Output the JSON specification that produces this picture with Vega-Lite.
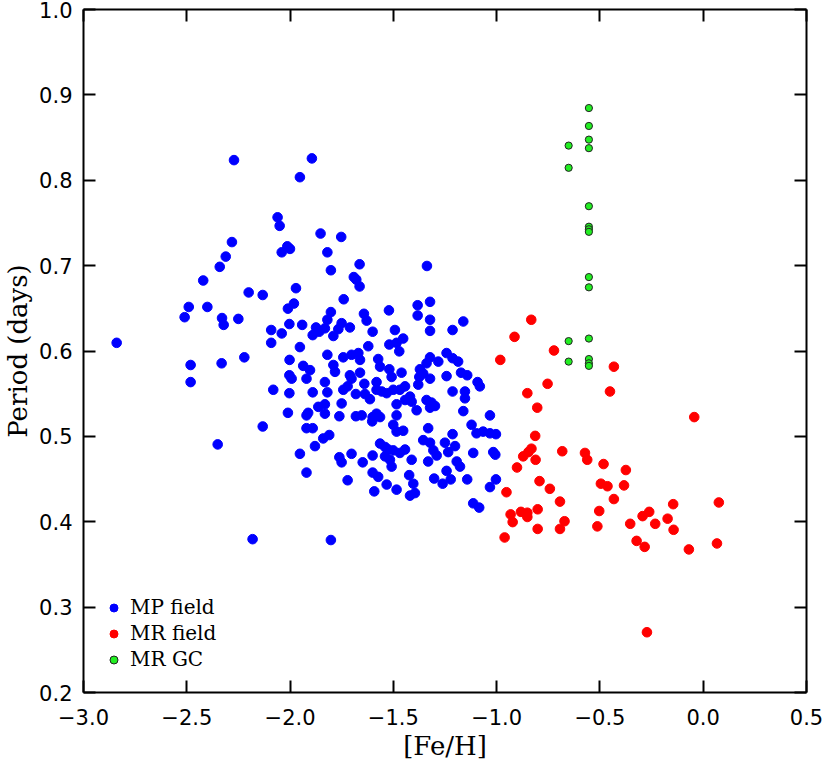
{
"$schema": "https://vega.github.io/schema/vega-lite/v6.json",
"width": 723, "height": 683,
"autosize": "none",
"padding": {"left": 83, "top": 9, "right": 24, "bottom": 69},
"background": "white",
"config": {
  "view": {"stroke": null},
  "axis": {"domainColor": "black", "domainWidth": 2, "tickColor": "black", "tickWidth": 2, "tickSize": 12, "grid": false,
           "labelFont": "DejaVu Sans", "labelFontSize": 21, "labelColor": "black", "labelPadding": 11, "labelFlush": false, "labelOverlap": false,
           "titleFont": "DejaVu Serif", "titleFontSize": 26, "titleFontWeight": "normal", "titleColor": "black"},
  "legend": {"labelFont": "DejaVu Serif", "labelFontSize": 20, "labelColor": "black", "symbolSize": 64, "symbolStrokeWidth": 1, "rowPadding": 6, "padding": 0, "labelOffset": 6}
},
"data": {"values": [
{"group":"MP field","feh":-2.269,"period":0.823},{"group":"MP field","feh":-2.058,"period":0.756},{"group":"MP field","feh":-2.048,"period":0.746},{"group":"MP field","feh":-2.279,"period":0.727},{"group":"MP field","feh":-2.011,"period":0.722},{"group":"MP field","feh":-2.038,"period":0.715},{"group":"MP field","feh":-2.309,"period":0.710},{"group":"MP field","feh":-2.338,"period":0.698},{"group":"MP field","feh":-2.418,"period":0.682},{"group":"MP field","feh":-2.198,"period":0.668},{"group":"MP field","feh":-2.130,"period":0.665},{"group":"MP field","feh":-2.008,"period":0.649},{"group":"MP field","feh":-2.488,"period":0.651},{"group":"MP field","feh":-2.398,"period":0.651},{"group":"MP field","feh":-2.508,"period":0.639},{"group":"MP field","feh":-2.327,"period":0.638},{"group":"MP field","feh":-2.319,"period":0.630},{"group":"MP field","feh":-2.248,"period":0.637},{"group":"MP field","feh":-2.089,"period":0.624},{"group":"MP field","feh":-2.038,"period":0.620},{"group":"MP field","feh":-2.001,"period":0.631},
{"group":"MP field","feh":-2.837,"period":0.609},{"group":"MP field","feh":-2.089,"period":0.609},{"group":"MP field","feh":-2.479,"period":0.583},{"group":"MP field","feh":-2.329,"period":0.585},{"group":"MP field","feh":-2.219,"period":0.592},{"group":"MP field","feh":-2.000,"period":0.589},{"group":"MP field","feh":-2.479,"period":0.563},{"group":"MP field","feh":-2.001,"period":0.571},{"group":"MP field","feh":-2.079,"period":0.554},{"group":"MP field","feh":-2.001,"period":0.550},{"group":"MP field","feh":-2.008,"period":0.527},{"group":"MP field","feh":-2.130,"period":0.511},{"group":"MP field","feh":-2.348,"period":0.490},{"group":"MP field","feh":-2.179,"period":0.379},
{"group":"MP field","feh":-1.950,"period":0.803},{"group":"MP field","feh":-1.892,"period":0.825},
{"group":"MP field","feh":-1.850,"period":0.737},{"group":"MP field","feh":-1.750,"period":0.733},{"group":"MP field","feh":-1.998,"period":0.719},{"group":"MP field","feh":-1.817,"period":0.715},{"group":"MP field","feh":-1.661,"period":0.701},{"group":"MP field","feh":-1.800,"period":0.694},{"group":"MP field","feh":-1.689,"period":0.686},{"group":"MP field","feh":-1.677,"period":0.683},{"group":"MP field","feh":-1.661,"period":0.675},{"group":"MP field","feh":-1.969,"period":0.673},{"group":"MP field","feh":-1.738,"period":0.660},{"group":"MP field","feh":-1.979,"period":0.655},{"group":"MP field","feh":-1.800,"period":0.645},{"group":"MP field","feh":-1.640,"period":0.643},{"group":"MP field","feh":-1.627,"period":0.635},{"group":"MP field","feh":-1.519,"period":0.647},{"group":"MP field","feh":-1.817,"period":0.636},{"group":"MP field","feh":-1.939,"period":0.630},{"group":"MP field","feh":-1.748,"period":0.632},{"group":"MP field","feh":-1.829,"period":0.626},{"group":"MP field","feh":-1.872,"period":0.627},{"group":"MP field","feh":-1.764,"period":0.625},{"group":"MP field","feh":-1.708,"period":0.627},{"group":"MP field","feh":-1.888,"period":0.618},{"group":"MP field","feh":-1.856,"period":0.622},{"group":"MP field","feh":-1.788,"period":0.617},{"group":"MP field","feh":-1.598,"period":0.622},{"group":"MP field","feh":-1.950,"period":0.604},{"group":"MP field","feh":-1.619,"period":0.605},{"group":"MP field","feh":-1.817,"period":0.595},{"group":"MP field","feh":-1.740,"period":0.592},{"group":"MP field","feh":-1.700,"period":0.595},{"group":"MP field","feh":-1.667,"period":0.597},{"group":"MP field","feh":-1.571,"period":0.590},
{"group":"MP field","feh":-1.659,"period":0.589},{"group":"MP field","feh":-1.562,"period":0.581},{"group":"MP field","feh":-1.934,"period":0.582},{"group":"MP field","feh":-1.788,"period":0.583},{"group":"MP field","feh":-1.901,"period":0.577},{"group":"MP field","feh":-1.780,"period":0.575},{"group":"MP field","feh":-1.990,"period":0.567},{"group":"MP field","feh":-1.918,"period":0.567},{"group":"MP field","feh":-1.708,"period":0.571},{"group":"MP field","feh":-1.700,"period":0.567},{"group":"MP field","feh":-1.659,"period":0.574},{"group":"MP field","feh":-1.829,"period":0.563},{"group":"MP field","feh":-1.638,"period":0.561},{"group":"MP field","feh":-1.579,"period":0.563},{"group":"MP field","feh":-1.888,"period":0.551},{"group":"MP field","feh":-1.817,"period":0.551},{"group":"MP field","feh":-1.740,"period":0.554},{"group":"MP field","feh":-1.719,"period":0.558},{"group":"MP field","feh":-1.679,"period":0.549},{"group":"MP field","feh":-1.635,"period":0.549},{"group":"MP field","feh":-1.611,"period":0.543},{"group":"MP field","feh":-1.579,"period":0.554},{"group":"MP field","feh":-1.554,"period":0.552},{"group":"MP field","feh":-1.530,"period":0.550},{"group":"MP field","feh":-1.748,"period":0.538},{"group":"MP field","feh":-1.861,"period":0.534},{"group":"MP field","feh":-1.829,"period":0.537},{"group":"MP field","feh":-1.829,"period":0.526},{"group":"MP field","feh":-1.918,"period":0.524},{"group":"MP field","feh":-1.910,"period":0.527},{"group":"MP field","feh":-1.759,"period":0.523},{"group":"MP field","feh":-1.679,"period":0.523},{"group":"MP field","feh":-1.651,"period":0.524},{"group":"MP field","feh":-1.598,"period":0.522},{"group":"MP field","feh":-1.579,"period":0.526},{"group":"MP field","feh":-1.562,"period":0.522},{"group":"MP field","feh":-1.600,"period":0.517},{"group":"MP field","feh":-1.918,"period":0.509},{"group":"MP field","feh":-1.888,"period":0.509},{"group":"MP field","feh":-1.837,"period":0.497},{"group":"MP field","feh":-1.808,"period":0.501},{"group":"MP field","feh":-1.877,"period":0.488},{"group":"MP field","feh":-1.950,"period":0.479},{"group":"MP field","feh":-1.759,"period":0.475},{"group":"MP field","feh":-1.748,"period":0.469},{"group":"MP field","feh":-1.700,"period":0.479},{"group":"MP field","feh":-1.646,"period":0.469},{"group":"MP field","feh":-1.598,"period":0.477},{"group":"MP field","feh":-1.918,"period":0.457},{"group":"MP field","feh":-1.719,"period":0.448},{"group":"MP field","feh":-1.598,"period":0.457},{"group":"MP field","feh":-1.571,"period":0.452},{"group":"MP field","feh":-1.530,"period":0.443},{"group":"MP field","feh":-1.590,"period":0.435},{"group":"MP field","feh":-1.800,"period":0.378},
{"group":"MP field","feh":-1.380,"period":0.653},{"group":"MP field","feh":-1.320,"period":0.657},{"group":"MP field","feh":-1.380,"period":0.641},{"group":"MP field","feh":-1.320,"period":0.636},{"group":"MP field","feh":-1.159,"period":0.634},{"group":"MP field","feh":-1.490,"period":0.624},{"group":"MP field","feh":-1.320,"period":0.623},{"group":"MP field","feh":-1.211,"period":0.624},{"group":"MP field","feh":-1.450,"period":0.614},{"group":"MP field","feh":-1.482,"period":0.609},{"group":"MP field","feh":-1.517,"period":0.607},{"group":"MP field","feh":-1.469,"period":0.599},{"group":"MP field","feh":-1.240,"period":0.597},{"group":"MP field","feh":-1.320,"period":0.592},{"group":"MP field","feh":-1.280,"period":0.587},{"group":"MP field","feh":-1.337,"period":0.585},{"group":"MP field","feh":-1.211,"period":0.591},{"group":"MP field","feh":-1.184,"period":0.587},{"group":"MP field","feh":-1.517,"period":0.578},{"group":"MP field","feh":-1.506,"period":0.569},{"group":"MP field","feh":-1.458,"period":0.574},{"group":"MP field","feh":-1.369,"period":0.578},{"group":"MP field","feh":-1.353,"period":0.573},{"group":"MP field","feh":-1.372,"period":0.569},{"group":"MP field","feh":-1.320,"period":0.567},{"group":"MP field","feh":-1.240,"period":0.570},{"group":"MP field","feh":-1.170,"period":0.574},{"group":"MP field","feh":-1.140,"period":0.571},{"group":"MP field","feh":-1.090,"period":0.563},{"group":"MP field","feh":-1.079,"period":0.558},{"group":"MP field","feh":-1.377,"period":0.560},{"group":"MP field","feh":-1.441,"period":0.558},{"group":"MP field","feh":-1.466,"period":0.554},{"group":"MP field","feh":-1.498,"period":0.554},{"group":"MP field","feh":-1.211,"period":0.552},{"group":"MP field","feh":-1.151,"period":0.552},{"group":"MP field","feh":-1.151,"period":0.544},{"group":"MP field","feh":-1.417,"period":0.546},{"group":"MP field","feh":-1.441,"period":0.542},{"group":"MP field","feh":-1.409,"period":0.540},{"group":"MP field","feh":-1.482,"period":0.537},{"group":"MP field","feh":-1.385,"period":0.530},{"group":"MP field","feh":-1.337,"period":0.542},{"group":"MP field","feh":-1.313,"period":0.539},{"group":"MP field","feh":-1.296,"period":0.535},{"group":"MP field","feh":-1.320,"period":0.533},{"group":"MP field","feh":-1.159,"period":0.529},{"group":"MP field","feh":-1.482,"period":0.524},{"group":"MP field","feh":-1.030,"period":0.524},{"group":"MP field","feh":-1.119,"period":0.513},{"group":"MP field","feh":-1.498,"period":0.513},{"group":"MP field","feh":-1.482,"period":0.505},{"group":"MP field","feh":-1.450,"period":0.506},{"group":"MP field","feh":-1.329,"period":0.509},{"group":"MP field","feh":-1.095,"period":0.503},{"group":"MP field","feh":-1.063,"period":0.505},{"group":"MP field","feh":-1.030,"period":0.503},{"group":"MP field","feh":-1.001,"period":0.502},{"group":"MP field","feh":-1.211,"period":0.502},{"group":"MP field","feh":-1.353,"period":0.495},{"group":"MP field","feh":-1.320,"period":0.492},{"group":"MP field","feh":-1.248,"period":0.492},{"group":"MP field","feh":-1.199,"period":0.488},{"group":"MP field","feh":-1.562,"period":0.491},{"group":"MP field","feh":-1.538,"period":0.487},{"group":"MP field","feh":-1.522,"period":0.484},{"group":"MP field","feh":-1.498,"period":0.483},{"group":"MP field","feh":-1.466,"period":0.480},{"group":"MP field","feh":-1.441,"period":0.484},{"group":"MP field","feh":-1.304,"period":0.483},{"group":"MP field","feh":-1.288,"period":0.477},{"group":"MP field","feh":-1.232,"period":0.481},{"group":"MP field","feh":-1.014,"period":0.481},{"group":"MP field","feh":-1.004,"period":0.478},{"group":"MP field","feh":-1.538,"period":0.476},{"group":"MP field","feh":-1.514,"period":0.472},{"group":"MP field","feh":-1.506,"period":0.464},{"group":"MP field","feh":-1.111,"period":0.480},{"group":"MP field","feh":-1.409,"period":0.472},{"group":"MP field","feh":-1.329,"period":0.470},{"group":"MP field","feh":-1.191,"period":0.470},{"group":"MP field","feh":-1.175,"period":0.464},{"group":"MP field","feh":-1.240,"period":0.459},{"group":"MP field","feh":-1.421,"period":0.454},{"group":"MP field","feh":-1.482,"period":0.437},{"group":"MP field","feh":-1.401,"period":0.444},{"group":"MP field","feh":-1.393,"period":0.433},{"group":"MP field","feh":-1.417,"period":0.430},{"group":"MP field","feh":-1.300,"period":0.450},{"group":"MP field","feh":-1.259,"period":0.444},{"group":"MP field","feh":-1.220,"period":0.449},{"group":"MP field","feh":-1.140,"period":0.449},{"group":"MP field","feh":-1.001,"period":0.449},{"group":"MP field","feh":-1.030,"period":0.440},{"group":"MP field","feh":-1.111,"period":0.421},{"group":"MP field","feh":-1.082,"period":0.416},{"group":"MP field","feh":-1.335,"period":0.699},
{"group":"MR field","feh":-0.830,"period":0.636},{"group":"MR field","feh":-0.911,"period":0.616},{"group":"MR field","feh":-0.720,"period":0.600},{"group":"MR field","feh":-0.980,"period":0.589},{"group":"MR field","feh":-0.430,"period":0.581},{"group":"MR field","feh":-0.751,"period":0.561},{"group":"MR field","feh":-0.849,"period":0.550},{"group":"MR field","feh":-0.449,"period":0.552},{"group":"MR field","feh":-0.801,"period":0.533},{"group":"MR field","feh":-0.041,"period":0.522},{"group":"MR field","feh":-0.811,"period":0.500},{"group":"MR field","feh":-0.829,"period":0.485},{"group":"MR field","feh":-0.844,"period":0.481},{"group":"MR field","feh":-0.869,"period":0.476},{"group":"MR field","feh":-0.680,"period":0.482},{"group":"MR field","feh":-0.570,"period":0.480},{"group":"MR field","feh":-0.559,"period":0.472},{"group":"MR field","feh":-0.809,"period":0.472},{"group":"MR field","feh":-0.899,"period":0.463},{"group":"MR field","feh":-0.480,"period":0.467},{"group":"MR field","feh":-0.372,"period":0.460},{"group":"MR field","feh":-0.790,"period":0.447},{"group":"MR field","feh":-0.740,"period":0.438},{"group":"MR field","feh":-0.950,"period":0.434},{"group":"MR field","feh":-0.493,"period":0.444},{"group":"MR field","feh":-0.461,"period":0.441},{"group":"MR field","feh":-0.381,"period":0.442},{"group":"MR field","feh":-0.691,"period":0.423},{"group":"MR field","feh":-0.430,"period":0.426},{"group":"MR field","feh":-0.143,"period":0.420},{"group":"MR field","feh":0.078,"period":0.422},{"group":"MR field","feh":-0.799,"period":0.414},{"group":"MR field","feh":-0.930,"period":0.408},{"group":"MR field","feh":-0.920,"period":0.399},{"group":"MR field","feh":-0.880,"period":0.411},{"group":"MR field","feh":-0.849,"period":0.410},{"group":"MR field","feh":-0.849,"period":0.405},{"group":"MR field","feh":-0.501,"period":0.412},{"group":"MR field","feh":-0.291,"period":0.406},{"group":"MR field","feh":-0.259,"period":0.411},{"group":"MR field","feh":-0.170,"period":0.403},{"group":"MR field","feh":-0.669,"period":0.400},{"group":"MR field","feh":-0.351,"period":0.397},{"group":"MR field","feh":-0.230,"period":0.397},{"group":"MR field","feh":-0.799,"period":0.391},{"group":"MR field","feh":-0.691,"period":0.391},{"group":"MR field","feh":-0.510,"period":0.394},{"group":"MR field","feh":-0.141,"period":0.390},{"group":"MR field","feh":-0.959,"period":0.381},{"group":"MR field","feh":-0.320,"period":0.377},{"group":"MR field","feh":-0.281,"period":0.370},{"group":"MR field","feh":-0.067,"period":0.367},{"group":"MR field","feh":0.069,"period":0.374},{"group":"MR field","feh":-0.270,"period":0.270},
{"group":"MR GC","feh":-0.551,"period":0.884},{"group":"MR GC","feh":-0.551,"period":0.863},{"group":"MR GC","feh":-0.551,"period":0.847},{"group":"MR GC","feh":-0.551,"period":0.837},{"group":"MR GC","feh":-0.649,"period":0.840},{"group":"MR GC","feh":-0.649,"period":0.814},{"group":"MR GC","feh":-0.551,"period":0.769},{"group":"MR GC","feh":-0.551,"period":0.745},{"group":"MR GC","feh":-0.551,"period":0.742},{"group":"MR GC","feh":-0.551,"period":0.739},{"group":"MR GC","feh":-0.551,"period":0.686},{"group":"MR GC","feh":-0.551,"period":0.674},{"group":"MR GC","feh":-0.649,"period":0.611},{"group":"MR GC","feh":-0.551,"period":0.614},{"group":"MR GC","feh":-0.649,"period":0.587},{"group":"MR GC","feh":-0.551,"period":0.590},{"group":"MR GC","feh":-0.551,"period":0.585},{"group":"MR GC","feh":-0.551,"period":0.582}
]},
"layer": [
  {"mark": {"type": "circle", "opacity": 1, "strokeWidth": 1},
   "encoding": {
     "x": {"field": "feh", "type": "quantitative", "scale": {"domain": [-3, 0.5], "nice": false, "zero": false}, "axis": {"orient": "bottom", "title": "[Fe/H]", "ticks": false, "labelPadding": 15, "values": [-3, -2.5, -2, -1.5, -1, -0.5, 0, 0.5], "format": ".1f", "titlePadding": 5}},
     "y": {"field": "period", "type": "quantitative", "scale": {"domain": [0.2, 1.0], "nice": false, "zero": false}, "axis": {"orient": "left", "title": "Period (days)", "ticks": false, "labelPadding": 11, "labelOffset": 2, "values": [0.2, 0.3, 0.4, 0.5, 0.6, 0.7, 0.8, 0.9, 1.0], "format": ".1f", "titlePadding": 7}},
     "color": {"field": "group", "type": "nominal", "scale": {"domain": ["MP field", "MR field", "MR GC"], "range": ["#0000ff", "#ff0000", "#22ee22"]},
               "legend": {"title": null, "orient": "none", "legendX": 21, "legendY": 589}},
     "stroke": {"field": "group", "type": "nominal", "scale": {"domain": ["MP field", "MR field", "MR GC"], "range": ["#0000ff", "#ff0000", "#222222"]},
               "legend": {"title": null, "orient": "none", "legendX": 21, "legendY": 589}},
     "size": {"condition": {"test": "datum.group === 'MR GC'", "value": 52}, "value": 92}
   }},
  {"mark": {"type": "circle", "opacity": 0},
   "encoding": {
     "x": {"field": "feh", "type": "quantitative", "axis": {"orient": "top", "offset": -683, "domain": false, "labels": false, "title": null, "values": [-3, -2.5, -2, -1.5, -1, -0.5, 0, 0.5]}},
     "y": {"field": "period", "type": "quantitative", "axis": {"orient": "right", "offset": -723, "domain": false, "labels": false, "title": null, "values": [0.2, 0.3, 0.4, 0.5, 0.6, 0.7, 0.8, 0.9, 1.0]}}
   }},
  {"mark": {"type": "circle", "opacity": 0},
   "encoding": {
     "x": {"field": "feh", "type": "quantitative", "axis": {"orient": "bottom", "offset": -683, "domain": true, "labels": false, "title": null, "values": [-3, -2.5, -2, -1.5, -1, -0.5, 0, 0.5]}},
     "y": {"field": "period", "type": "quantitative", "axis": {"orient": "left", "offset": -723, "domain": true, "labels": false, "title": null, "values": [0.2, 0.3, 0.4, 0.5, 0.6, 0.7, 0.8, 0.9, 1.0]}}
   }}
],
"resolve": {"axis": {"x": "independent", "y": "independent"}}
}
